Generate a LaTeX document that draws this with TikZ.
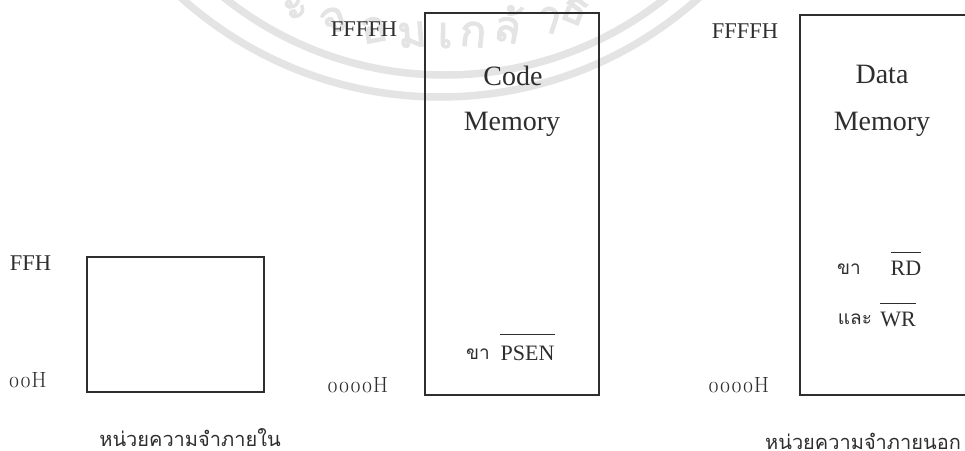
\documentclass[tikz,border=0pt]{standalone}
\usepackage{fontspec}
\setmainfont{Liberation Serif}
\newfontfamily\thaifont[Script=Thai]{Loma}
\newfontfamily\sealfont[Script=Thai,FakeBold=2.5]{Loma}
\newfontfamily\osf[Numbers=OldStyle]{Latin Modern Roman}
\definecolor{ink}{HTML}{2E2E2E}
\definecolor{mark}{HTML}{E4E4E4}
\tikzset{
  memline/.style={draw=ink,line width=1.5pt},
  addr/.style={font=\fontsize{22.5}{24}\selectfont,text=ink,inner sep=0pt,anchor=base},
  addrold/.style={font=\osf\fontsize{22}{24}\selectfont,text=ink,inner sep=0pt,anchor=base},
  title/.style={font=\fontsize{28}{30}\selectfont,text=ink,inner sep=0pt,anchor=base},
  sig/.style={font=\fontsize{22}{24}\selectfont,text=ink,inner sep=0pt,anchor=base},
  thai/.style={font=\thaifont\fontsize{19}{22}\selectfont,text=ink,inner sep=0pt},
  caption/.style={font=\thaifont\fontsize{20}{22}\selectfont,text=ink,inner sep=0pt},
  bar/.style={draw=ink,line width=0.8pt},
  seal/.style={draw=mark,line width=7.5pt},
  sealtext/.style={font=\sealfont\fontsize{44}{46}\selectfont,text=mark,inner sep=0pt,anchor=base},
}
\begin{document}
\begin{tikzpicture}[x=1pt,y=-1pt]
\useasboundingbox (0,0) rectangle (965,450);
\begin{scope}
  \clip (0,0) rectangle (965,450);
  \draw[seal] (440,-290) circle[radius=387pt];
  \draw[seal] (445,-279) circle[radius=354pt];
  \foreach \px/\g in {300/ะ,337/จ,376/อ,413/ม,445/เ,472/ก,505/ล้,545/า,570/ธ}{
    \pgfmathsetmacro\ang{asin((\px-440)/338)}
    \node[sealtext,rotate=-\ang] at ({440+338*sin(\ang)},{-290+338*cos(\ang)}) {\g};
  }
\end{scope}
% boxes
\node[memline,minimum width=177pt,minimum height=135pt,inner sep=0pt] (internal) at (175.5,324.5) {};
\node[memline,minimum width=174pt,minimum height=382pt,inner sep=0pt] (code) at (512,204) {};
\coordinate (dtr) at (965,15);
\coordinate (dtl) at (800,15);
\coordinate (dbl) at (800,395);
\coordinate (dbr) at (965,395);
\draw[memline] (dtr) -- (dtl) -- (dbl) -- (dbr);
% addresses
\node[addr] (ffh) at (30.5,270) {FFH};
\node[addrold] (ooh) at (27.5,387) {00H};
\node[addr] (cff) at (364,36) {FFFFH};
\node[addrold] (coo) at (357.5,392) {0000H};
\node[addr] (dff) at (745,38) {FFFFH};
\node[addrold] (doo) at (738.5,392) {0000H};
% titles
\node[title] (ct1) at (513,85) {Code};
\node[title] (ct2) at (512,130) {Memory};
\node[title] (dt1) at (882,83) {Data};
\node[title] (dt2) at (882,130) {Memory};
% signals
\node[thai] (cpin) at (478,354) {ขา};
\node[sig] (psen) at (527.5,360) {PSEN};
\draw[bar] ([yshift=11pt]psen.north west) -- ([yshift=11pt]psen.north east);
\node[thai] (dpin) at (849,269) {ขา};
\node[sig] (rd) at (906,275) {RD};
\draw[bar] ([yshift=8pt]rd.north west) -- ([yshift=8pt]rd.north east);
\node[thai] (dand) at (855,319) {และ};
\node[sig] (wr) at (898,326) {WR};
\draw[bar] ([yshift=8pt]wr.north west) -- ([yshift=8pt]wr.north east);
% captions
\node[caption] (cin) at (190,438) {หน่วยความจำภายใน};
\node[caption] (cout) at (863,441) {หน่วยความจำภายนอก};
\end{tikzpicture}
\end{document}
